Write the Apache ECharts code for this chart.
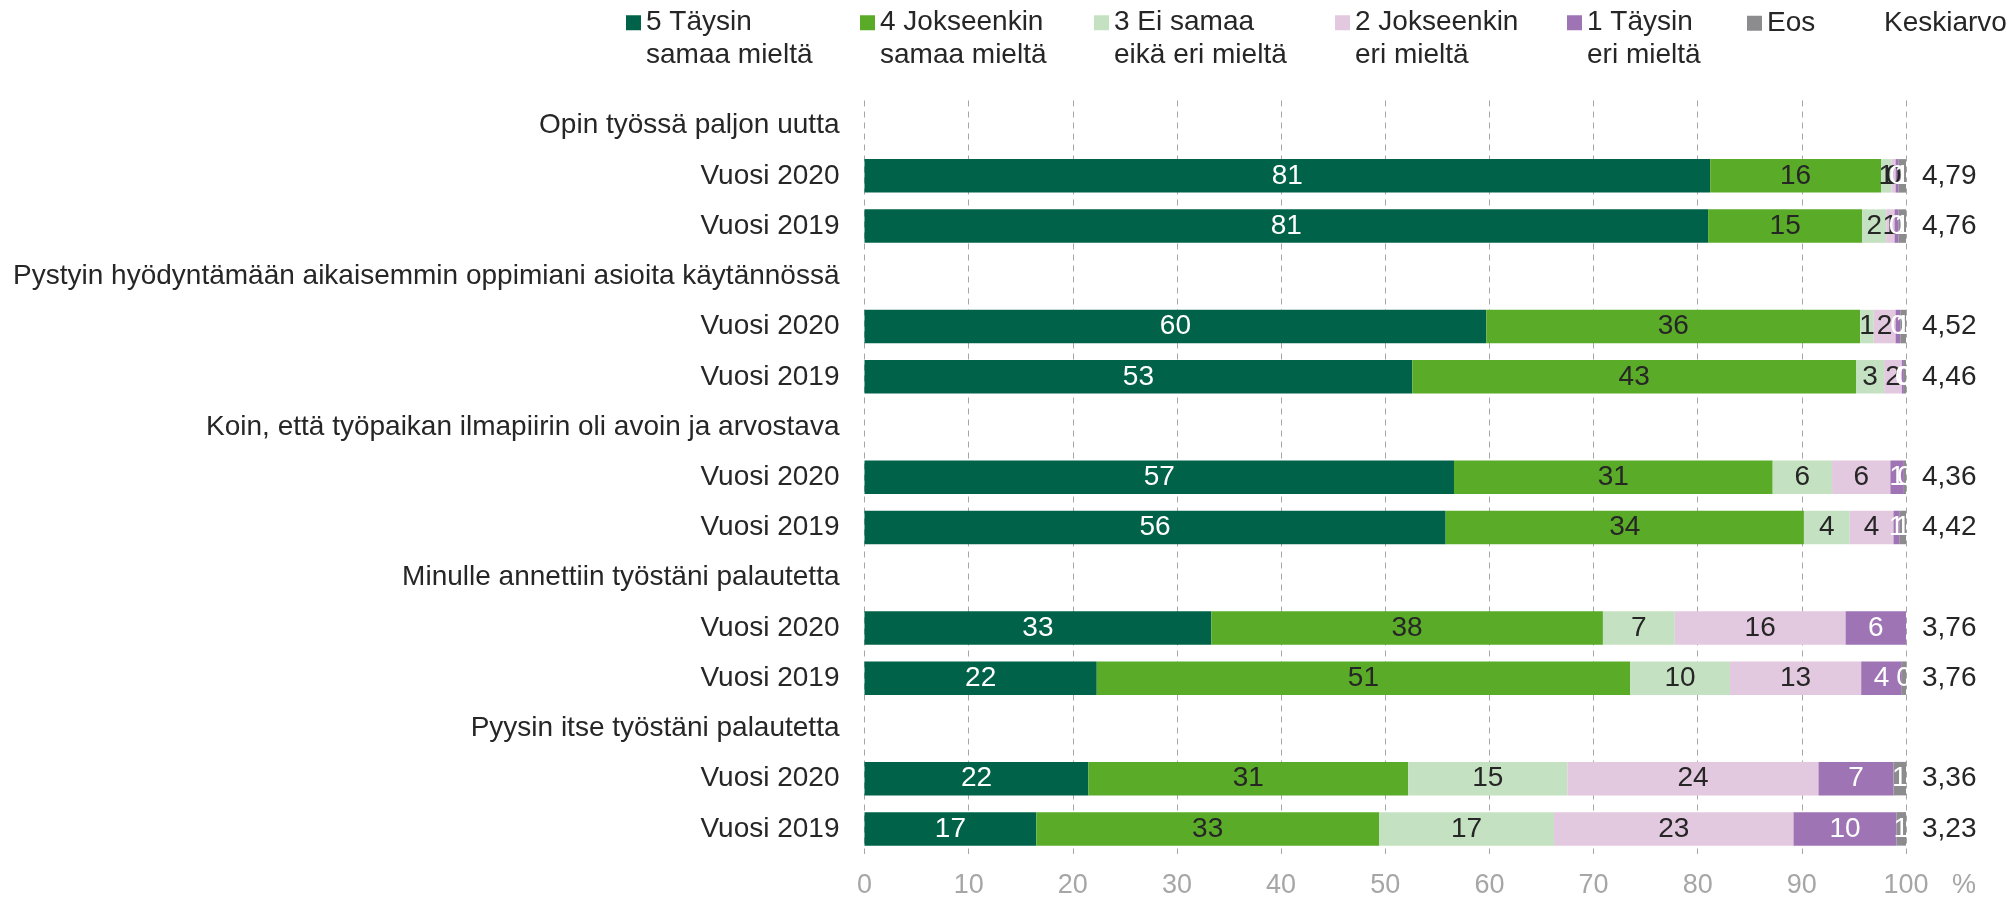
<!DOCTYPE html>
<html>
<head>
<meta charset="utf-8">
<script src="https://cdn.jsdelivr.net/npm/echarts@6/dist/echarts.min.js"></script>
<style>
  html, body { margin: 0; padding: 0; background: #fff; }
  #chart { width: 2014px; height: 899px; }
</style>
</head>
<body>
<div id="chart"></div>
<script>
// questions and the two survey years under each
const questions = [
  'Opin työssä paljon uutta',
  'Pystyin hyödyntämään aikaisemmin oppimiani asioita käytännössä',
  'Koin, että työpaikan ilmapiirin oli avoin ja arvostava',
  'Minulle annettiin työstäni palautetta',
  'Pyysin itse työstäni palautetta'
];
const years = ['Vuosi 2020', 'Vuosi 2019'];

// shares (%) per bar, order: q1 2020, q1 2019, q2 2020, ...
const taysinSamaa = [81.2, 81.0, 59.7, 52.6, 56.6, 55.8, 33.3, 22.3, 21.5, 16.5];
const jokseenkinSamaa = [16.4, 14.8, 35.9, 42.6, 30.6, 34.4, 37.6, 51.2, 30.7, 32.9];
const eiSamaaEiEri = [1.0, 2.3, 1.3, 2.7, 5.7, 4.4, 6.9, 9.6, 15.3, 16.8];
const jokseenkinEri = [0.4, 0.8, 2.1, 1.7, 5.6, 4.2, 16.4, 12.6, 24.1, 23.0];
const taysinEri = [0.3, 0.4, 0.45, 0.2, 1.3, 0.6, 5.8, 3.9, 7.2, 9.9];
const eos = [0.7, 0.7, 0.55, 0.2, 0.2, 0.6, 0, 0.4, 1.2, 0.9];
const keskiarvo = ['4,79', '4,76', '4,52', '4,46', '4,36', '4,42', '3,76', '3,76', '3,36', '3,23'];

const xTicks = [0, 100, 10]; // min, max, interval

const FONT = "'Liberation Sans', Arial, sans-serif";
const TXT = '#262626';
const FS = 28;

// rows: question header, then one row per year
const rowLabels = [];
const avgLabels = [];
questions.forEach((q, i) => {
  rowLabels.push(q);
  avgLabels.push('');
  years.forEach((y, j) => {
    rowLabels.push(y);
    avgLabels.push(keskiarvo[i * 2 + j]);
  });
});
function toRows (vals) {
  const out = [];
  questions.forEach((q, i) => {
    out.push('-');
    out.push(vals[i * 2], vals[i * 2 + 1]);
  });
  return out;
}

const seriesDefs = [
  { name: '5 Täysin\nsamaa mieltä', color: '#006349', label: '#ffffff', vals: taysinSamaa },
  { name: '4 Jokseenkin\nsamaa mieltä', color: '#5aab28', label: TXT, vals: jokseenkinSamaa },
  { name: '3 Ei samaa\neikä eri mieltä', color: '#c4e2c1', label: TXT, vals: eiSamaaEiEri },
  { name: '2 Jokseenkin\neri mieltä', color: '#e3c9df', label: TXT, vals: jokseenkinEri },
  { name: '1 Täysin\neri mieltä', color: '#9e74b4', label: '#ffffff', vals: taysinEri },
  { name: 'Eos', color: '#8c8c8e', label: '#ffffff', vals: eos }
];
const legendX = [626, 860, 1094, 1335, 1567, 1747];

const chart = echarts.init(document.getElementById('chart'));
chart.setOption({
  animation: false,
  textStyle: { fontFamily: FONT },
  title: {
    text: 'Keskiarvo',
    left: 1884,
    top: 9,
    padding: 0,
    textStyle: { fontSize: FS, fontWeight: 'normal', color: TXT, fontFamily: FONT }
  },
  // one legend per item so each sits where the original had it;
  // a blank first line keeps the marker level with the first text line
  legend: seriesDefs.map((s, i) => {
    const twoLines = s.name.indexOf('\n') >= 0;
    return {
      data: [s.name],
      left: legendX[i],
      top: twoLines ? -26 : 7,
      padding: 0,
      itemWidth: 15,
      itemHeight: 15,
      icon: 'rect',
      selectedMode: false,
      formatter: name => (twoLines ? ' \n' + name : name),
      textStyle: { fontSize: FS, color: TXT, fontFamily: FONT, lineHeight: 32.5 }
    };
  }),
  grid: { left: 864.5, right: 108, top: 100.5, bottom: 44, containLabel: false },
  xAxis: {
    type: 'value',
    min: xTicks[0],
    max: xTicks[1],
    interval: xTicks[2],
    name: '%',
    nameLocation: 'end',
    nameGap: 46,
    nameTextStyle: { fontSize: 27, color: '#a6a6a6', verticalAlign: 'top', padding: [18, 0, 0, 0] },
    axisLine: { show: false },
    axisTick: { show: false },
    axisLabel: { fontSize: 27, color: '#a6a6a6', margin: 18 },
    splitLine: { show: true, lineStyle: { color: '#a6a6a6', type: [6, 5], width: 1 } }
  },
  yAxis: [{
    type: 'category',
    inverse: true,
    data: rowLabels,
    axisLine: { show: false },
    axisTick: { show: false },
    axisLabel: { fontSize: FS, color: TXT, margin: 25, interval: 0 }
  }, {
    type: 'category',
    inverse: true,
    position: 'right',
    data: avgLabels,
    axisLine: { show: false },
    axisTick: { show: false },
    axisLabel: { fontSize: FS, color: TXT, margin: 16, interval: 0, align: 'left' }
  }],
  series: seriesDefs.map(s => ({
    name: s.name,
    type: 'bar',
    stack: 'total',
    barWidth: 33.5,
    itemStyle: { color: s.color },
    label: {
      show: true,
      position: 'inside',
      fontSize: FS,
      color: s.label,
      fontFamily: FONT,
      formatter: p => (p.value === 0 ? '' : String(Math.round(p.value)))
    },
    data: toRows(s.vals)
  }))
});
</script>
</body>
</html>
